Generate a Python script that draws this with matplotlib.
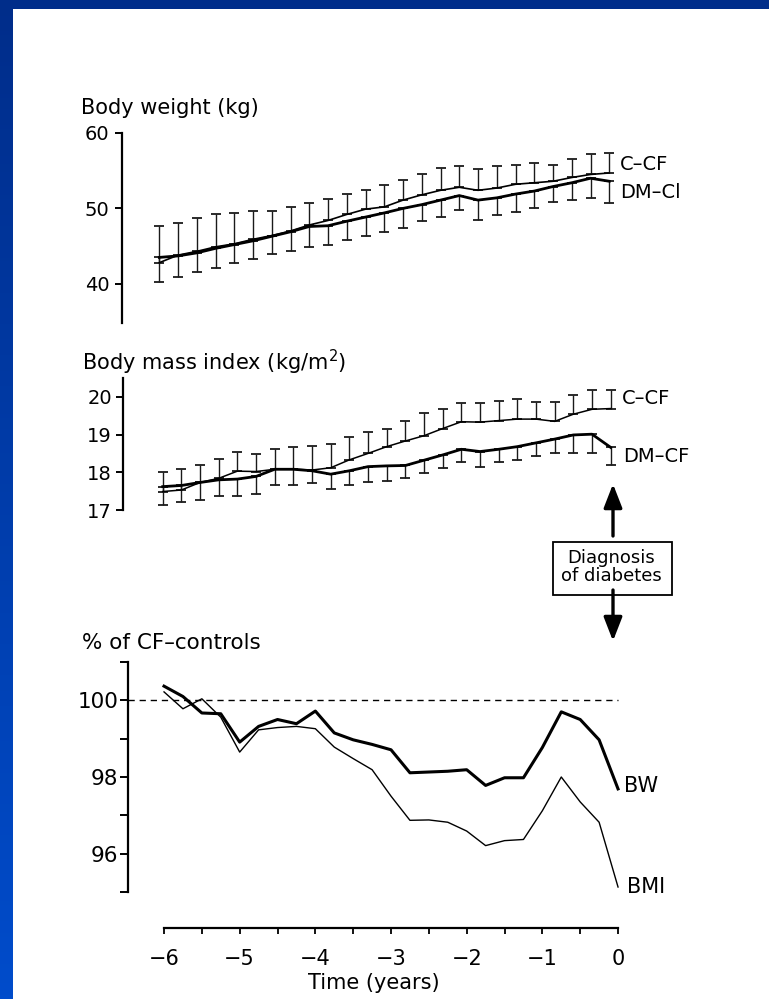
import numpy as np
import matplotlib
matplotlib.use("Agg")
import matplotlib.pyplot as plt
from matplotlib.patches import Rectangle

# ---------------------------------------------------------------------------
# Data: quarterly means before the diagnosis of diabetes (time in years)
# ---------------------------------------------------------------------------
time_years = [-6.0, -5.75, -5.5, -5.25, -5.0, -4.75, -4.5, -4.25, -4.0,
              -3.75, -3.5, -3.25, -3.0, -2.75, -2.5, -2.25, -2.0, -1.75,
              -1.5, -1.25, -1.0, -0.75, -0.5, -0.25, 0.0]

# Body weight (kg): CF controls (mean, +SD) and diabetic CF patients (mean, -SD)
bw_ccf = [42.8, 43.8, 44.3, 44.9, 45.3, 45.9, 46.4, 47.0, 47.8, 48.4, 49.2,
          49.9, 50.2, 51.1, 51.8, 52.4, 52.8, 52.4, 52.7, 53.2, 53.4, 53.6,
          54.1, 54.5, 54.7]
bw_ccf_sd = [4.9, 4.2, 4.4, 4.3, 4.1, 3.7, 3.3, 3.2, 2.9, 2.8, 2.65, 2.6,
             2.9, 2.7, 2.8, 2.9, 2.8, 2.8, 2.9, 2.6, 2.65, 2.2, 2.4, 2.65, 2.6]
bw_dmcf = [43.5, 43.7, 44.1, 44.7, 45.2, 45.7, 46.3, 46.9, 47.6, 47.7, 48.3,
           48.85, 49.4, 50.0, 50.5, 51.1, 51.7, 51.1, 51.4, 51.9, 52.3, 52.9,
           53.4, 54.0, 53.6]
bw_dmcf_sd = [3.2, 2.75, 2.5, 2.6, 2.4, 2.4, 2.4, 2.55, 2.7, 2.5, 2.5, 2.55,
              2.5, 2.6, 2.2, 2.2, 1.9, 2.65, 2.3, 2.4, 2.2, 2.1, 2.3, 2.6, 2.9]

# Body mass index (kg/m2)
bmi_ccf = [17.49, 17.53, 17.73, 17.84, 18.03, 18.02, 18.08, 18.08, 18.06,
           18.12, 18.33, 18.5, 18.68, 18.83, 18.97, 19.16, 19.34, 19.33,
           19.37, 19.41, 19.41, 19.35, 19.54, 19.67, 19.69]
bmi_ccf_sd = [0.53, 0.57, 0.46, 0.51, 0.52, 0.46, 0.53, 0.58, 0.64, 0.62,
              0.6, 0.58, 0.46, 0.54, 0.59, 0.53, 0.51, 0.5, 0.53, 0.53, 0.46,
              0.52, 0.51, 0.51, 0.49]
bmi_dmcf = [17.62, 17.65, 17.73, 17.8, 17.82, 17.89, 18.08, 18.08, 18.04,
            17.95, 18.04, 18.15, 18.17, 18.18, 18.32, 18.46, 18.61, 18.55,
            18.61, 18.68, 18.78, 18.88, 18.99, 19.01, 18.66]
bmi_dmcf_sd = [0.5, 0.44, 0.46, 0.44, 0.44, 0.46, 0.43, 0.43, 0.33, 0.39,
               0.39, 0.42, 0.39, 0.33, 0.35, 0.35, 0.35, 0.42, 0.35, 0.35,
               0.35, 0.38, 0.47, 0.51, 0.47]

# Diabetic patients as % of CF controls
pct_bw = [100.37, 100.1, 99.67, 99.65, 98.91, 99.32, 99.5, 99.39, 99.72,
          99.15, 98.97, 98.85, 98.71, 98.11, 98.13, 98.15, 98.19, 97.78,
          97.98, 97.98, 98.77, 99.7, 99.5, 98.97, 97.69]
pct_bmi = [100.22, 99.78, 100.04, 99.56, 98.65, 99.23, 99.29, 99.32, 99.26,
           98.78, 98.48, 98.19, 97.5, 96.87, 96.88, 96.82, 96.59, 96.21,
           96.34, 96.37, 97.12, 98.0, 97.35, 96.82, 95.13]

year_ticks = [-6, -5, -4, -3, -2, -1, 0]
half_year_ticks = [-5.5, -4.5, -3.5, -2.5, -1.5, -0.5]

# ---------------------------------------------------------------------------
W, H = 769, 999
plt.rcParams['font.family'] = ['DejaVu Sans']
fig = plt.figure(figsize=(W / 100, H / 100), dpi=100)
fig.patch.set_facecolor('white')


def px_rect(x0, y0, x1, y1):
    """Figure-fraction rectangle from pixel edges (y measured from the top)."""
    return [x0 / W, 1 - y1 / H, (x1 - x0) / W, (y1 - y0) / H]


def style_panel(ax, lw=1.6):
    for side in ('top', 'right', 'bottom'):
        ax.spines[side].set_visible(False)
    ax.spines['left'].set_linewidth(lw)
    ax.set_facecolor('none')
    ax.tick_params(axis='x', which='both', bottom=False, labelbottom=False)
    ax.tick_params(axis='y', which='both', direction='out', width=1.4)


t = np.array(time_years)
err_kw = dict(fmt='none', ecolor='#1a1a1a', elinewidth=1.0, capsize=3.5,
              capthick=1.3, clip_on=False)

# --- Body weight -----------------------------------------------------------
ax1 = fig.add_axes(px_rect(122, 133, 620, 323))
style_panel(ax1)
ax1.set_xlim(-6.497, 0.143)
ax1.set_ylim(34.8, 60)
ax1.set_yticks([40, 50, 60])
ax1.tick_params(axis='y', length=5, pad=4, labelsize=14)
ax1.errorbar(t, bw_ccf, yerr=[np.zeros(len(t)), bw_ccf_sd], **err_kw)
ax1.errorbar(t, bw_dmcf, yerr=[bw_dmcf_sd, np.zeros(len(t))], **err_kw)
ax1.plot(t, bw_ccf, color='black', lw=1.2, clip_on=False)
ax1.plot(t, bw_dmcf, color='black', lw=2.0, clip_on=False)

# --- Body mass index -------------------------------------------------------
ax2 = fig.add_axes(px_rect(123, 378, 620, 510))
style_panel(ax2)
ax2.set_xlim(-6.532, 0.125)
ax2.set_ylim(17, 20.5)
ax2.set_yticks([17, 18, 19, 20])
ax2.tick_params(axis='y', length=5, pad=3, labelsize=14)
ax2.errorbar(t, bmi_ccf, yerr=[np.zeros(len(t)), bmi_ccf_sd], **err_kw)
ax2.errorbar(t, bmi_dmcf, yerr=[bmi_dmcf_sd, np.zeros(len(t))], **err_kw)
ax2.plot(t, bmi_ccf, color='black', lw=1.1, clip_on=False)
ax2.plot(t, bmi_dmcf, color='black', lw=2.0, clip_on=False)

# --- Percentage of CF controls --------------------------------------------
ax3 = fig.add_axes(px_rect(128, 662, 620, 892))
style_panel(ax3)
ax3.set_xlim(-6.476, 0.026)
ax3.set_ylim(95, 101)
ax3.set_yticks([96, 98, 100])
ax3.set_yticks([95, 97, 99, 101], minor=True)
ax3.tick_params(axis='y', which='both', length=6, pad=1, labelsize=15.5)
ax3.plot([-6.476, 0.0], [100, 100], color='black', lw=1.0, dashes=(4.5, 3.5),
         clip_on=False)
ax3.plot(t, pct_bmi, color='black', lw=1.0, clip_on=False)
ax3.plot(t, pct_bw, color='black', lw=2.2, clip_on=False)

# time axis below the last panel
ax3.spines['bottom'].set_visible(True)
ax3.spines['bottom'].set_position(('outward', 26))
ax3.spines['bottom'].set_bounds(-6, 0)
ax3.spines['bottom'].set_linewidth(1.6)
ax3.set_xticks(year_ticks)
ax3.set_xticks(half_year_ticks, minor=True)
ax3.tick_params(axis='x', which='both', bottom=True, labelbottom=True,
                direction='out', length=4, width=1.3, pad=11, labelsize=15)
ax3.set_xlabel('Time (years)', fontsize=15, labelpad=3)

# --- Overlay in pixel coordinates for labels, frame and annotation --------
ov = fig.add_axes([0, 0, 1, 1], zorder=10)
ov.set_xlim(0, W)
ov.set_ylim(H, 0)
ov.axis('off')

# slide frame: dark bar at the top, blue gradient on the left
grad = np.linspace(0, 1, 256).reshape(-1, 1)
cmap = matplotlib.colors.LinearSegmentedColormap.from_list(
    'frame', ['#002D8A', '#004CCB'])
ov.imshow(grad, extent=(0, 13, H, 0), aspect='auto', cmap=cmap, zorder=1)
ov.add_patch(Rectangle((0, 0), W, 9, color='#002D8A', lw=0, zorder=2))
ov.set_xlim(0, W)
ov.set_ylim(H, 0)

ov.text(81, 108, 'Body weight (kg)', fontsize=15, va='center', ha='left')
ov.text(82, 362, 'Body mass index (kg/m$^{2}$)', fontsize=15, va='center',
        ha='left')
ov.text(82, 643, '% of CF\u2013controls', fontsize=15.5, va='center',
        ha='left')

ov.text(620, 165, 'C\u2013CF', fontsize=14, va='center', ha='left')
ov.text(620, 192, 'DM\u2013Cl', fontsize=14, va='center', ha='left')
ov.text(622, 398, 'C\u2013CF', fontsize=14, va='center', ha='left')
ov.text(623, 457, 'DM\u2013CF', fontsize=14, va='center', ha='left')
ov.text(624, 786, 'BW', fontsize=15, va='center', ha='left')
ov.text(627, 887, 'BMI', fontsize=15, va='center', ha='left')

# diagnosis marker
ov.add_patch(Rectangle((553, 542), 119, 53, fill=False, ec='black', lw=1.3))
ov.text(611, 567, 'Diagnosis\nof diabetes', fontsize=13, ha='center',
        va='center', linespacing=1.0)
arrow_kw = dict(arrowstyle='-|>,head_length=0.9,head_width=0.35', lw=2.4,
                color='black', mutation_scale=16, shrinkA=0, shrinkB=0)
ov.annotate('', xy=(613, 484), xytext=(613, 536), arrowprops=arrow_kw)
ov.annotate('', xy=(613, 641), xytext=(613, 590), arrowprops=arrow_kw)

fig.savefig('out.png', dpi=100, facecolor='white')
